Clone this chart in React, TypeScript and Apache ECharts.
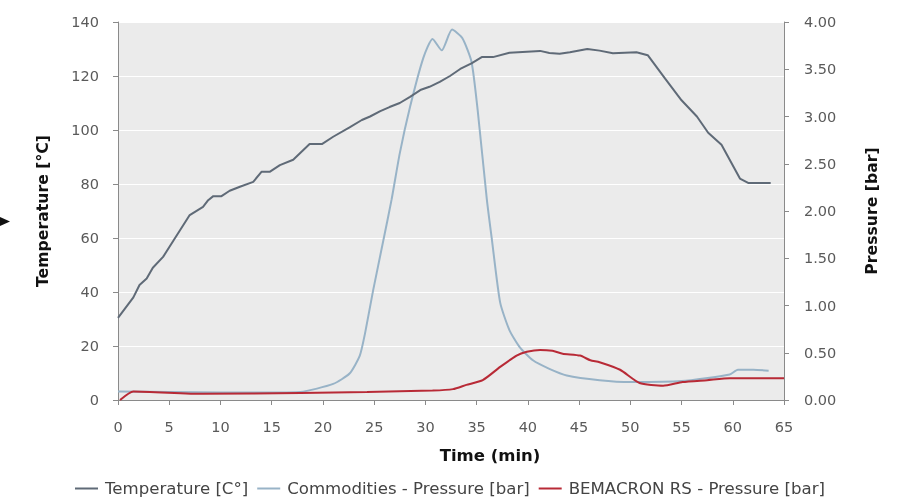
import React, { useEffect, useRef } from "react";
import * as echarts from "echarts";

const tempTime = [0, 1.5, 2.1, 2.8, 3.4, 4.4, 5.4, 7.0, 8.3, 8.8, 9.3, 10.1, 10.9, 11.9, 13.2, 14.0, 14.8, 15.8, 17.1, 18.7, 19.9, 21, 22.6, 23.8, 24.6, 25.6, 26.5, 27.5, 28.5, 29.5, 30.4, 31.4, 32.4, 33.4, 34.5, 35.5, 36.6, 38.2, 41.2, 42.1, 43.1, 44.1, 45.8, 47, 48.3, 50.6, 51.7, 53.4, 55, 56.5, 57.6, 58.9, 60.7, 61.5, 63.7];
const tempValue = [30.4, 38, 42.6, 45, 49, 53, 59, 68.5, 71.5, 74, 75.5, 75.5, 77.5, 79, 80.8, 84.5, 84.5, 87, 89, 94.8, 94.8, 97.5, 101, 103.7, 105, 107, 108.5, 110, 112.3, 114.8, 116, 117.8, 120, 122.6, 124.7, 127, 127, 128.6, 129.3, 128.5, 128.2, 128.8, 130, 129.4, 128.4, 128.8, 127.7, 119, 111, 105, 99, 94.5, 82, 80.4, 80.4];

const commTime = [0, 5, 10, 15, 17.8, 21, 22.6, 23.6, 24.1, 24.9, 25.9, 26.7, 27.5, 28.5, 29.8, 30.7, 31.6, 32.6, 33.6, 34.5, 35.1, 36, 36.5, 37.3, 38.2, 39.2, 40.5, 42.1, 43.8, 47, 50, 55, 59.7, 60.5, 62, 63.5];
const commValue = [0.09, 0.085, 0.08, 0.08, 0.085, 0.17, 0.28, 0.47, 0.7, 1.16, 1.69, 2.12, 2.61, 3.1, 3.62, 3.82, 3.7, 3.92, 3.83, 3.58, 3.07, 2.12, 1.69, 1.03, 0.74, 0.56, 0.42, 0.33, 0.26, 0.21, 0.19, 0.2, 0.27, 0.32, 0.32, 0.31];

const bemTime = [0.2, 1.5, 8.3, 17.8, 24.3, 30.7, 32.7, 34, 35.6, 37.3, 38.9, 39.9, 41.2, 42.4, 43.4, 45.1, 46.1, 47, 49, 50.9, 53.2, 55.1, 57.5, 59.7, 65];
const bemValue = [0, 0.09, 0.065, 0.075, 0.085, 0.1, 0.115, 0.16, 0.21, 0.35, 0.47, 0.51, 0.53, 0.52, 0.49, 0.47, 0.42, 0.4, 0.32, 0.18, 0.15, 0.19, 0.21, 0.23, 0.23];

const seriesNames = ["Temperature [C°]", "Commodities - Pressure [bar]", "BEMACRON RS - Pressure [bar]"];
const seriesColors = ["#5f6a77", "#98b3c7", "#b82a36"];

const zip = (a: number[], b: number[]) => a.map((t, i) => [t, b[i]]);

export default function App() {
  const ref = useRef<HTMLDivElement>(null);
  useEffect(() => {
    if (!ref.current) return;
    const chart = echarts.init(ref.current, undefined, { renderer: "svg" });
    const font = "DejaVu Sans";
    const labelColor = "#5a5a5a";
    const axisLineColor = "#8a8a8a";
    chart.setOption({
      animation: false,
      textStyle: { fontFamily: font },
      grid: {
        left: 118,
        right: 116,
        top: 22,
        bottom: 103,
        show: true,
        backgroundColor: "#ebebeb",
        borderWidth: 0,
      },
      legend: {
        top: 478,
        left: "center",
        padding: [2, 5, 2, 5],
        icon: "rect",
        itemWidth: 23,
        itemHeight: 2,
        itemGap: 9,
        textStyle: { color: "#444", fontSize: 16.6, fontFamily: font, padding: [0, 0, 0, 2] },
        data: seriesNames,
      },
      xAxis: {
        type: "value",
        min: 0,
        max: 65,
        interval: 5,
        axisLine: { show: true, lineStyle: { color: axisLineColor } },
        axisTick: { show: true, length: 5, lineStyle: { color: axisLineColor } },
        axisLabel: { color: labelColor, fontSize: 14.5, margin: 19, fontFamily: font },
        splitLine: { show: false },
      },
      yAxis: [
        {
          type: "value",
          min: 0,
          max: 140,
          interval: 20,
          position: "left",
          name: "Temperature [°C]",
          nameLocation: "middle",
          nameGap: 68,
          nameTextStyle: { color: "#111", fontSize: 15.7, fontWeight: "bold", fontFamily: font },
          axisLine: { show: true, lineStyle: { color: axisLineColor } },
          axisTick: { show: true, length: 5, lineStyle: { color: axisLineColor } },
          axisLabel: { color: labelColor, fontSize: 14.5, margin: 19, fontFamily: font },
          splitLine: { show: true, lineStyle: { color: "#ffffff", width: 1 } },
        },
        {
          type: "value",
          min: 0,
          max: 4,
          interval: 0.5,
          position: "right",
          name: "Pressure [bar]",
          nameLocation: "middle",
          nameGap: 79,
          nameTextStyle: { color: "#111", fontSize: 15.7, fontWeight: "bold", fontFamily: font },
          axisLine: { show: true, lineStyle: { color: axisLineColor } },
          axisTick: { show: true, length: 5, lineStyle: { color: axisLineColor } },
          axisLabel: {
            color: labelColor,
            fontSize: 14.5,
            margin: 20,
            fontFamily: font,
            formatter: (v: number) => v.toFixed(2),
          },
          splitLine: { show: false },
        },
      ],
      graphic: [
        {
          type: "text",
          x: 490,
          y: 455,
          style: {
            text: "Time (min)",
            fontSize: 16.5,
            fontWeight: "bold",
            fill: "#111",
            fontFamily: font,
            align: "center",
            verticalAlign: "middle",
          },
        },
        {
          type: "polygon",
          shape: { points: [[0, 217], [10, 221.5], [0, 226]] },
          style: { fill: "#111" },
        },
      ],
      series: [
        {
          name: seriesNames[0],
          type: "line",
          yAxisIndex: 0,
          showSymbol: false,
          data: zip(tempTime, tempValue),
          lineStyle: { color: seriesColors[0], width: 2 },
          itemStyle: { color: seriesColors[0] },
          z: 3,
        },
        {
          name: seriesNames[1],
          type: "line",
          yAxisIndex: 1,
          showSymbol: false,
          smooth: 0.2,
          data: zip(commTime, commValue),
          lineStyle: { color: seriesColors[1], width: 2 },
          itemStyle: { color: seriesColors[1] },
          z: 2,
        },
        {
          name: seriesNames[2],
          type: "line",
          yAxisIndex: 1,
          showSymbol: false,
          smooth: 0.2,
          data: zip(bemTime, bemValue),
          lineStyle: { color: seriesColors[2], width: 2 },
          itemStyle: { color: seriesColors[2] },
          z: 4,
        },
      ],
    });
    return () => chart.dispose();
  }, []);
  return (
    <div
      ref={ref}
      style={{ position: "fixed", left: 0, top: 0, width: 900, height: 503 }}
    />
  );
}
